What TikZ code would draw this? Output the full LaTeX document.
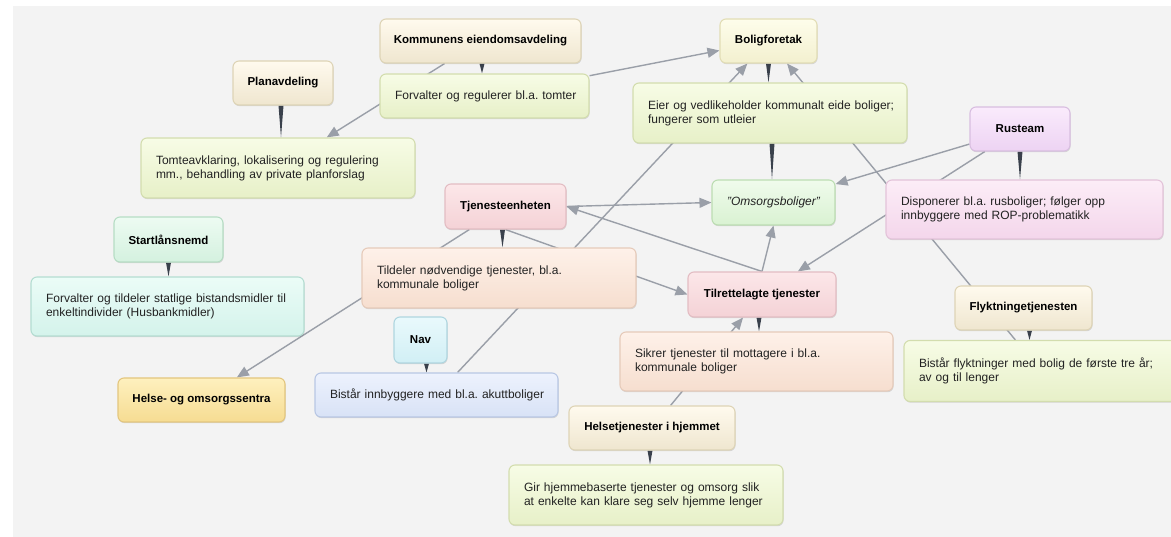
\documentclass[tikz,border=0pt]{standalone}
\usepackage{fontspec}
\setmainfont{Liberation Sans}
\usetikzlibrary{arrows.meta,shadows}
\pgfdeclarelayer{panel}
\pgfdeclarelayer{lines}
\pgfsetlayers{panel,lines,main}
\frenchspacing

\definecolor{panelgray}{HTML}{F3F3F3}
\definecolor{linegray}{HTML}{9A9FA8}
\definecolor{wedgecol}{HTML}{3A414C}
\definecolor{textcol}{HTML}{222222}
\definecolor{creamT}{HTML}{FFFAEE}\definecolor{creamB}{HTML}{EFE6CF}\definecolor{creamD}{HTML}{DED4B6}
\definecolor{yelT}{HTML}{FEFDEB}\definecolor{yelB}{HTML}{F3F0CF}\definecolor{yelD}{HTML}{E2DDB5}
\definecolor{ygT}{HTML}{F7FCE6}\definecolor{ygB}{HTML}{E7F0C8}\definecolor{ygD}{HTML}{D3DDAE}
\definecolor{omsT}{HTML}{F0FBEC}\definecolor{omsB}{HTML}{D9F2D2}\definecolor{omsD}{HTML}{BCDDB2}
\definecolor{rusT}{HTML}{FAEBFC}\definecolor{rusB}{HTML}{EDD3F3}\definecolor{rusD}{HTML}{D8BEE0}
\definecolor{dispT}{HTML}{FCEDF7}\definecolor{dispB}{HTML}{F4D6EB}\definecolor{dispD}{HTML}{E3C3D9}
\definecolor{pinkT}{HTML}{FCE7E9}\definecolor{pinkB}{HTML}{F4D2D6}\definecolor{pinkD}{HTML}{E3BDC3}
\definecolor{peachT}{HTML}{FEF1E9}\definecolor{peachB}{HTML}{F6DECF}\definecolor{peachD}{HTML}{E6CBBA}
\definecolor{startT}{HTML}{EDFBF2}\definecolor{startB}{HTML}{D4F1DF}\definecolor{startD}{HTML}{B6DDC4}
\definecolor{mintT}{HTML}{EBFCF7}\definecolor{mintB}{HTML}{D4F3EB}\definecolor{mintD}{HTML}{B4DDD2}
\definecolor{navT}{HTML}{E9F9FC}\definecolor{navB}{HTML}{D1EFF5}\definecolor{navD}{HTML}{AFD6E0}
\definecolor{blueT}{HTML}{EDF2FD}\definecolor{blueB}{HTML}{D8E2F6}\definecolor{blueD}{HTML}{B8C7E4}
\definecolor{helseT}{HTML}{FEF0BE}\definecolor{helseB}{HTML}{F6DC92}\definecolor{helseD}{HTML}{E3C67E}

\begin{document}
\begin{tikzpicture}[x=1pt,y=-1pt,
  base/.style={rounded corners=6pt, line width=1.1pt,
    drop shadow={shadow xshift=0.6pt,shadow yshift=-1.2pt,opacity=0.12,fill=black}},
  prop/.style={base, align=left, inner xsep=15pt, inner ysep=0pt, text=textcol,
    font=\fontsize{12}{14}\selectfont},
  concept/.style={base, align=center, inner sep=0pt, text=black,
    font=\fontsize{11.5}{14}\selectfont\bfseries},
  cream/.style={top color=creamT, bottom color=creamB, draw=creamD},
  yel/.style={top color=yelT, bottom color=yelB, draw=yelD},
  yg/.style={top color=ygT, bottom color=ygB, draw=ygD},
  omsc/.style={top color=omsT, bottom color=omsB, draw=omsD},
  rusc/.style={top color=rusT, bottom color=rusB, draw=rusD},
  dispc/.style={top color=dispT, bottom color=dispB, draw=dispD},
  pinkc/.style={top color=pinkT, bottom color=pinkB, draw=pinkD},
  peachc/.style={top color=peachT, bottom color=peachB, draw=peachD},
  startc/.style={top color=startT, bottom color=startB, draw=startD},
  mintc/.style={top color=mintT, bottom color=mintB, draw=mintD},
  navc/.style={top color=navT, bottom color=navB, draw=navD},
  bluec/.style={top color=blueT, bottom color=blueB, draw=blueD},
  helsec/.style={top color=helseT, bottom color=helseB, draw=helseD},
  conn/.style={draw=linegray, line width=1.4pt, -{Triangle[length=12pt,width=10pt]}},
  wedge/.style={fill=wedgecol}
]
\useasboundingbox (0,0) rectangle (1171,537);
\begin{pgfonlayer}{panel}
  \fill[white] (0,0) rectangle (1171,537);
  \fill[panelgray] (13,6) rectangle (1171,537);
\end{pgfonlayer}

% concepts
\node[concept, cream, minimum width=201pt, minimum height=44pt] (kom) at (480.5,41) {Kommunens eiendomsavdeling};
\node[concept, cream, minimum width=100pt, minimum height=44pt] (plan) at (283,83) {Planavdeling};
\node[concept, yel, minimum width=97pt, minimum height=44pt] (bolig) at (768.5,41) {Boligforetak};
\node[concept, omsc, minimum width=123pt, minimum height=45pt, font=\fontsize{12}{14}\selectfont\itshape, text=textcol] (oms) at (773.5,202.5) {"Omsorgsboliger"};
\node[concept, rusc, minimum width=100pt, minimum height=44pt] (rus) at (1020,129) {Rusteam};
\node[concept, pinkc, minimum width=121pt, minimum height=45pt] (tjen) at (505.5,206.5) {Tjenesteenheten};
\node[concept, pinkc, minimum width=148pt, minimum height=45pt] (tilr) at (762,294.5) {Tilrettelagte tjenester};
\node[concept, startc, minimum width=109pt, minimum height=45pt] (start) at (168.5,239.5) {Startlånsnemd};
\node[concept, navc, minimum width=53pt, minimum height=46pt] (nav) at (420.5,340) {Nav};
\node[concept, helsec, minimum width=167pt, minimum height=44pt] (helse) at (201.5,400) {Helse- og omsorgssentra};
\node[concept, cream, minimum width=137pt, minimum height=44pt] (flykt) at (1023.5,308) {Flyktningetjenesten};
\node[concept, cream, minimum width=166pt, minimum height=44pt] (helsehj) at (652,428) {Helsetjenester i hjemmet};

% propositions
\node[prop, yg, text width=179pt, minimum height=44pt] (forv) at (484.5,96) {\mbox{Forvalter og regulerer bl.a. tomter}};
\node[prop, yg, text width=244pt, minimum height=60pt] (tomte) at (278,168) {\mbox{Tomteavklaring, lokalisering og regulering}\\\mbox{mm., behandling av private planforslag}};
\node[prop, yg, text width=244pt, minimum height=60pt] (eier) at (770,113) {\mbox{Eier og vedlikeholder kommunalt eide boliger;}\\\mbox{fungerer som utleier}};
\node[prop, dispc, text width=247pt, minimum height=59pt] (disp) at (1024.5,209.5) {\mbox{Disponerer bl.a. rusboliger; følger opp}\\\mbox{innbyggere med ROP-problematikk}};
\node[prop, peachc, text width=244pt, minimum height=60pt] (tild) at (499,278) {\mbox{Tildeler nødvendige tjenester, bl.a.}\\\mbox{kommunale boliger}};
\node[prop, mintc, text width=243pt, minimum height=59pt] (forvtild) at (167.5,306.5) {\mbox{Forvalter og tildeler statlige bistandsmidler til}\\\mbox{enkeltindivider (Husbankmidler)}};
\node[prop, bluec, text width=213pt, minimum height=44pt] (bistinn) at (436.5,395) {\mbox{Bistår innbyggere med bl.a. akuttboliger}};
\node[prop, peachc, text width=243pt, minimum height=59pt] (sikrer) at (756.5,361.5) {\mbox{Sikrer tjenester til mottagere i bl.a.}\\\mbox{kommunale boliger}};
\node[prop, yg, text width=244pt, minimum height=61pt] (bistfl) at (1041,371) {\mbox{Bistår flyktninger med bolig de første tre år;}\\\mbox{av og til lenger}};
\node[prop, yg, text width=244pt, minimum height=60pt] (gir) at (646,495) {\mbox{Gir hjemmebaserte tjenester og omsorg slik}\\\mbox{at enkelte kan klare seg selv hjemme lenger}};

\begin{pgfonlayer}{lines}
  % arrows
  \draw[conn] (kom) -- (tomte);
  \draw[conn] (forv) -- (bolig);
  \draw[conn] (bistinn) -- (bolig);
  \draw[conn] (bistfl) -- (bolig);
  \draw[conn] (rus) -- (oms);
  \draw[conn] (tjen.east) -- (oms.west);
  \draw[conn] (tilr.north) -- (tjen.east);
  \draw[conn] (tilr.north) -- (oms.south);
  \draw[conn] (rus) -- (tilr);
  \draw[conn] (tjen.south) -- (tilr.west);
  \draw[conn] (tjen) -- (helse);
  \draw[conn] (helsehj) -- (tilr);
  % wedges
  \fill[wedge] ([xshift=-1pt]kom.south) -- ([xshift=4pt]kom.south) -- ([xshift=1.5pt]kom.south |- forv.north) -- cycle;
  \fill[wedge] ([xshift=-4.5pt]plan.south) -- ([xshift=0.5pt]plan.south) -- ([xshift=-2pt]plan.south |- tomte.north) -- cycle;
  \fill[wedge] ([xshift=-2.5pt]bolig.south) -- ([xshift=2.5pt]bolig.south) -- (bolig.south |- eier.north) -- cycle;
  \fill[wedge] ([xshift=-0.5pt]eier.south) -- ([xshift=4.5pt]eier.south) -- ([xshift=2pt]eier.south |- oms.north) -- cycle;
  \fill[wedge] ([xshift=-2.5pt]rus.south) -- ([xshift=2.5pt]rus.south) -- (rus.south |- disp.north) -- cycle;
  \fill[wedge] ([xshift=-5.5pt]tjen.south) -- ([xshift=-0.5pt]tjen.south) -- ([xshift=-3pt]tjen.south |- tild.north) -- cycle;
  \fill[wedge] ([xshift=-2.5pt]start.south) -- ([xshift=2.5pt]start.south) -- (start.south |- forvtild.north) -- cycle;
  \fill[wedge] ([xshift=3.5pt]nav.south) -- ([xshift=8.5pt]nav.south) -- ([xshift=6pt]nav.south |- bistinn.north) -- cycle;
  \fill[wedge] ([xshift=-5.5pt]tilr.south) -- ([xshift=-0.5pt]tilr.south) -- ([xshift=-3pt]tilr.south |- sikrer.north) -- cycle;
  \fill[wedge] ([xshift=3.5pt]flykt.south) -- ([xshift=8.5pt]flykt.south) -- ([xshift=6pt]flykt.south |- bistfl.north) -- cycle;
  \fill[wedge] ([xshift=-4.5pt]helsehj.south) -- ([xshift=0.5pt]helsehj.south) -- ([xshift=-2pt]helsehj.south |- gir.north) -- cycle;
\end{pgfonlayer}
\end{tikzpicture}
\end{document}
